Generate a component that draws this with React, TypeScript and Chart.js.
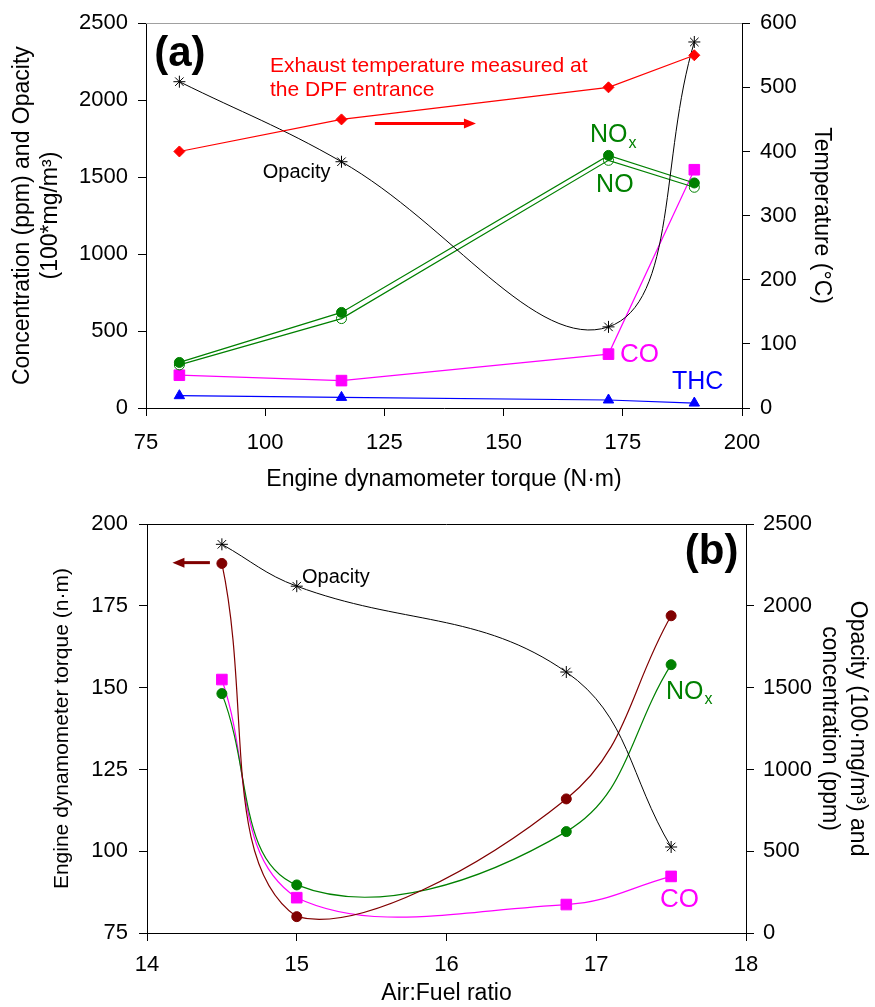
import React, { useEffect, useRef } from 'react';
import { Chart, registerables } from 'chart.js';

Chart.register(...registerables);

// ---------- Data: panel (a) ----------
const torqueA = [82, 116, 172, 190];
const temperatureA = [400, 450, 500, 550];
const opacityA = [2120, 1600, 527, 2378];
const noxA = [296, 621, 1641, 1462];
const noA = [280, 581, 1609, 1434];
const coA = [213, 178, 350, 1548];
const thcA = [80, 69, 52, 32];

// ---------- Data: panel (b) ----------
const afrB = [14.5, 15.0, 16.8, 17.5];
const torqueB = [188, 80, 116, 172];
const opacityB = [2377, 2121, 1596, 526];
const noxB = [1464, 294, 620, 1641];
const coB = [1550, 216, 174, 346];

// ---------- Tick labels ----------
const xTicksA = [75, 100, 125, 150, 175, 200];
const yTicksA = [0, 500, 1000, 1500, 2000, 2500];
const y2TicksA = [0, 100, 200, 300, 400, 500, 600];
const xTicksB = [14, 15, 16, 17, 18];
const yTicksB = [75, 100, 125, 150, 175, 200];
const y2TicksB = [0, 500, 1000, 1500, 2000, 2500];

const FONT = "Arial, 'Liberation Sans', Helvetica, sans-serif";

function pts(xs: number[], ys: number[]) {
  return xs.map((x, i) => ({ x, y: ys[i] }));
}

function range(t: number[]) {
  return { min: t[0], max: t[t.length - 1] };
}

type Label = {
  text: string; x: number; y: number; color: string; size: number;
  bold?: boolean; align?: CanvasTextAlign; sub?: string; axis?: string;
};
type Arrow = { x1: number; x2: number; y: number; color: string; axis?: string };

function annotations(labels: Label[], arrows: Arrow[], topColor: string) {
  return {
    id: 'annot',
    afterDraw(chart: any) {
      const { ctx, chartArea } = chart;
      ctx.save();
      ctx.strokeStyle = topColor;
      ctx.lineWidth = 1;
      ctx.beginPath();
      ctx.moveTo(chartArea.left, Math.round(chartArea.top) + 0.5);
      ctx.lineTo(chartArea.right, Math.round(chartArea.top) + 0.5);
      ctx.stroke();
      const xs = chart.scales.x;
      for (const l of labels) {
        const ys = chart.scales[l.axis || 'y'];
        const px = xs.getPixelForValue(l.x);
        const py = ys.getPixelForValue(l.y);
        ctx.font = `${l.bold ? 'bold ' : ''}${l.size}px ${FONT}`;
        ctx.fillStyle = l.color;
        ctx.textAlign = l.align || 'left';
        ctx.textBaseline = 'middle';
        ctx.fillText(l.text, px, py);
        if (l.sub) {
          const w = ctx.measureText(l.text).width;
          ctx.font = `${Math.round(l.size * 0.64)}px ${FONT}`;
          ctx.textAlign = 'left';
          ctx.fillText(l.sub, px + w + 1, py + l.size * 0.32);
        }
      }
      for (const a of arrows) {
        const ys = chart.scales[a.axis || 'y'];
        const x1 = xs.getPixelForValue(a.x1);
        const x2 = xs.getPixelForValue(a.x2);
        const y = ys.getPixelForValue(a.y);
        const dir = Math.sign(x2 - x1);
        ctx.strokeStyle = a.color;
        ctx.fillStyle = a.color;
        ctx.lineWidth = 3;
        ctx.beginPath();
        ctx.moveTo(x1, y);
        ctx.lineTo(x2 - dir * 8, y);
        ctx.stroke();
        ctx.beginPath();
        ctx.moveTo(x2, y);
        ctx.lineTo(x2 - dir * 12, y - 5);
        ctx.lineTo(x2 - dir * 12, y + 5);
        ctx.closePath();
        ctx.fill();
      }
      ctx.restore();
    },
  };
}

const tickFont = { family: FONT, size: 22 };

function axisCommon(ticks: number[], pad: number) {
  return {
    type: 'linear' as const,
    ...range(ticks),
    afterBuildTicks: (s: any) => { s.ticks = ticks.map((v) => ({ value: v })); },
    ticks: {
      color: '#000', font: tickFont, padding: pad,
      callback: (v: any) => String(v),
    },
    grid: { drawOnChartArea: false, drawTicks: true, tickLength: 8, color: '#000', lineWidth: 1 },
    border: { display: true, color: '#000', width: 1 },
  };
}

function fixSize(prop: 'width' | 'height', v: number) {
  return (s: any) => { s[prop] = v; };
}

const GREEN = '#008000';
const RED = '#ff0000';
const MAGENTA = '#ff00ff';
const BLUE = '#0000ff';
const DARKRED = '#800000';

function lineDs(label: string, data: any[], color: string, style: string, radius: number, opts: any = {}) {
  return {
    label,
    data,
    borderColor: color,
    backgroundColor: color,
    borderWidth: 1.2,
    pointStyle: style,
    pointRadius: radius,
    pointBorderColor: color,
    pointBackgroundColor: color,
    pointBorderWidth: 1,
    tension: 0,
    ...opts,
  };
}

function makeChartA(canvas: HTMLCanvasElement) {
  const labels: Label[] = [
    { text: '(a)', x: 82.1, y: 2300, color: '#000', size: 42, bold: true, align: 'center' },
    { text: 'Exhaust temperature measured at', x: 101.0, y: 2223, color: RED, size: 21 },
    { text: 'the DPF entrance', x: 101.0, y: 2062, color: RED, size: 21 },
    { text: 'NO', x: 168.1, y: 1772, color: GREEN, size: 25, sub: 'x' },
    { text: 'NO', x: 169.4, y: 1450, color: GREEN, size: 25 },
    { text: 'Opacity', x: 99.5, y: 1527, color: '#000', size: 20 },
    { text: 'CO', x: 174.4, y: 348, color: MAGENTA, size: 26 },
    { text: 'THC', x: 185.3, y: 168, color: BLUE, size: 25 },
  ];
  const arrows: Arrow[] = [{ x1: 123.0, x2: 144.2, y: 1849, color: RED }];
  return new Chart(canvas, {
    type: 'line',
    data: {
      datasets: [
        lineDs('Temperature', pts(torqueA, temperatureA), RED, 'rectRot', 5.5, { yAxisID: 'y2' }),
        lineDs('Opacity', pts(torqueA, opacityA), '#000', 'star', 6, { tension: 0.4, borderWidth: 1 }),
        lineDs('NOx', pts(torqueA, noxA), GREEN, 'circle', 5),
        lineDs('NO', pts(torqueA, noA), GREEN, 'circle', 5, { pointBackgroundColor: 'rgba(255,255,255,0)' }),
        lineDs('CO', pts(torqueA, coA), MAGENTA, 'rect', 7.5),
        lineDs('THC', pts(torqueA, thcA), BLUE, 'triangle', 6),
      ],
    },
    options: {
      animation: false,
      responsive: false,
      layout: { padding: { top: 20, left: 0, right: 0, bottom: 0 } },
      plugins: { legend: { display: false }, tooltip: { enabled: false } },
      scales: {
        x: {
          ...axisCommon(xTicksA, 14),
          position: 'bottom',
          afterFit: fixSize('height', 92),
          title: {
            display: true, text: 'Engine dynamometer torque (N·m)', color: '#000',
            font: { family: FONT, size: 23 }, padding: { top: 0, bottom: 7 },
          },
        },
        y: {
          ...axisCommon(yTicksA, 10),
          position: 'left',
          afterFit: fixSize('width', 146),
          title: {
            display: true, text: ['Concentration (ppm) and Opacity', '(100*mg/m³)'], color: '#000',
            font: { family: FONT, size: 23 }, padding: { top: 9, bottom: 0 },
          },
        },
        y2: {
          ...axisCommon(y2TicksA, 10),
          position: 'right',
          afterFit: fixSize('width', 133),
          title: {
            display: true, text: 'Temperature (°C)', color: '#000',
            font: { family: FONT, size: 23 }, padding: { top: 40, bottom: 0 },
          },
        },
      },
    } as any,
    plugins: [annotations(labels, arrows, '#a0a0a0')],
  });
}

function makeChartB(canvas: HTMLCanvasElement) {
  const labels: Label[] = [
    { text: '(b)', x: 17.77, y: 191.3, color: '#000', size: 42, bold: true, align: 'center' },
    { text: 'Opacity', x: 15.035, y: 183.7, color: '#000', size: 20 },
    { text: 'NO', x: 17.466, y: 148.8, color: GREEN, size: 25, sub: 'x' },
    { text: 'CO', x: 17.426, y: 85.2, color: MAGENTA, size: 26 },
  ];
  const arrows: Arrow[] = [{ x1: 14.42, x2: 14.17, y: 188.25, color: DARKRED }];
  return new Chart(canvas, {
    type: 'line',
    data: {
      datasets: [
        lineDs('Opacity', pts(afrB, opacityB), '#000', 'star', 6, { yAxisID: 'y2', tension: 0.4, borderWidth: 1 }),
        lineDs('Torque', pts(afrB, torqueB), DARKRED, 'circle', 5, { tension: 0.4 }),
        lineDs('NOx', pts(afrB, noxB), GREEN, 'circle', 5, { yAxisID: 'y2', tension: 0.4 }),
        lineDs('CO', pts(afrB, coB), MAGENTA, 'rect', 7.5, { yAxisID: 'y2', tension: 0.4 }),
      ],
    },
    options: {
      animation: false,
      responsive: false,
      layout: { padding: { top: 17, left: 0, right: 0, bottom: 0 } },
      plugins: { legend: { display: false }, tooltip: { enabled: false } },
      scales: {
        x: {
          ...axisCommon(xTicksB, 11),
          position: 'bottom',
          afterFit: fixSize('height', 74),
          title: {
            display: true, text: 'Air:Fuel ratio', color: '#000',
            font: { family: FONT, size: 23 }, padding: { top: 0, bottom: 0 },
          },
        },
        y: {
          ...axisCommon(yTicksB, 11),
          position: 'left',
          afterFit: fixSize('width', 147),
          title: {
            display: true, text: 'Engine dynamometer torque (n·m)', color: '#000',
            font: { family: FONT, size: 21 }, padding: { top: 50, bottom: 0 },
          },
        },
        y2: {
          ...axisCommon(y2TicksB, 9),
          position: 'right',
          afterFit: fixSize('width', 129),
          title: {
            display: true, text: ['Opacity (100·mg/m³) and', 'concentration (ppm)'], color: '#000',
            font: { family: FONT, size: 23 }, padding: { top: 4, bottom: 0 },
          },
        },
      },
    } as any,
    plugins: [annotations(labels, arrows, '#000')],
  });
}

export default function App() {
  const refA = useRef<HTMLCanvasElement>(null);
  const refB = useRef<HTMLCanvasElement>(null);
  useEffect(() => {
    const a = makeChartA(refA.current!);
    const b = makeChartB(refB.current!);
    return () => {
      a.destroy();
      b.destroy();
    };
  }, []);
  return (
    <div style={{ position: 'absolute', left: 0, top: 0, width: 875, height: 1007, background: '#fff' }}>
      <canvas ref={refA} width={875} height={500} style={{ display: 'block', width: 875, height: 500 }} />
      <canvas ref={refB} width={875} height={507} style={{ display: 'block', width: 875, height: 507 }} />
    </div>
  );
}
